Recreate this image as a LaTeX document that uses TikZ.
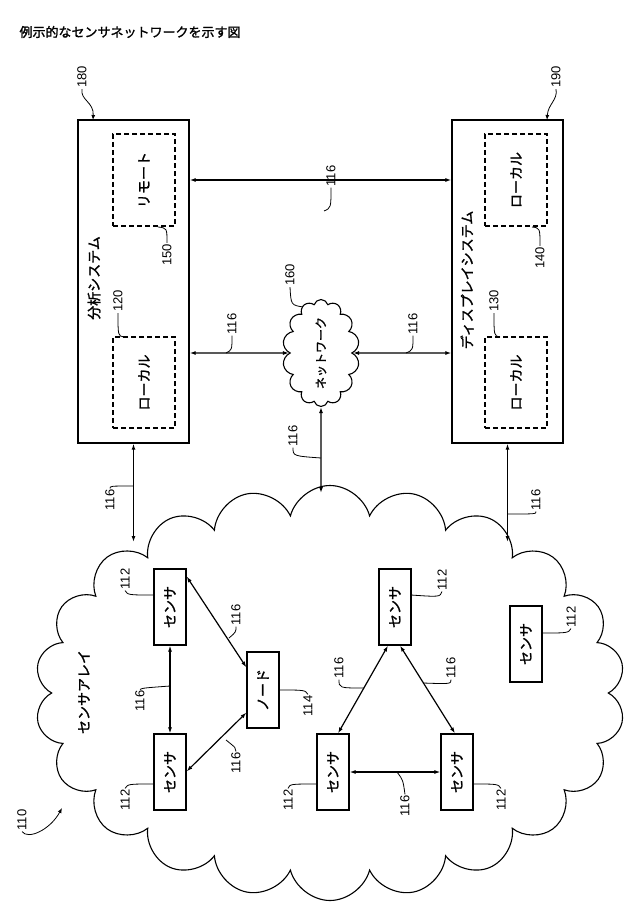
\documentclass[tikz,border=0pt]{standalone}
\usepackage{fontspec}
\setmainfont{Liberation Sans}
\newfontfamily\cjk[AutoFakeBold=1.6]{Noto Sans CJK JP}
\usetikzlibrary{shapes.symbols,arrows.meta,calc}
\begin{document}
\begin{tikzpicture}[x=1pt,y=-1pt,
  box/.style={draw,line width=1.3pt,inner sep=0},
  dbox/.style={draw,line width=1.3pt,dash pattern=on 5pt off 3pt,inner sep=0},
  jt/.style={font=\cjk\bfseries\fontsize{14}{14}\selectfont,rotate=90},
  num/.style={font=\fontsize{13}{13}\selectfont,rotate=90,inner sep=1pt},
  conn/.style={line width=1.2pt,{Latex[length=6pt,width=4pt]}-{Latex[length=6pt,width=4pt]}},
  lead/.style={line width=0.8pt},
  leadarr/.style={line width=0.8pt,-{Latex[length=5pt,width=4pt]}}]
\useasboundingbox (0,0) rectangle (640,920);
\node[anchor=west,font=\cjk\bfseries\fontsize{13}{13}\selectfont] (title) at (16,32) {例示的なセンサネットワークを示す図};
% main boxes
\node[box,minimum width=111,minimum height=323] (ana) at (133.5,281.5) {};
\node[box,minimum width=111,minimum height=323] (disp) at (507.5,281.5) {};
\node[jt] (anat) at (94,278) {分析システム};
\node[jt] (dispt) at (467,280) {ディスプレイシステム};
\node[dbox,minimum width=62,minimum height=92] (rem) at (144,180) {};
\node[jt] at (rem) {リモート};
\node[dbox,minimum width=62,minimum height=91] (loc1) at (144,382.5) {};
\node[jt] at (loc1) {ローカル};
\node[dbox,minimum width=62,minimum height=92] (loc2) at (516,180) {};
\node[jt] at (loc2) {ローカル};
\node[dbox,minimum width=62,minimum height=91] (loc3) at (516,382.5) {};
\node[jt] at (loc3) {ローカル};
% network cloud
\node[cloud,draw,line width=1.1pt,cloud puffs=14,aspect=0.72,minimum width=77,minimum height=107,inner sep=0] (net) at (321,353) {};
\node[jt,font=\cjk\bfseries\fontsize{12}{12}\selectfont] at (net) {ネットワーク};
% sensor cloud
\node[cloud,draw,line width=1.1pt,cloud puffs=22,aspect=1.43,minimum width=590,minimum height=415,inner sep=0] (sc) at (330,693) {};
\node[jt] (sat) at (84,692) {センサアレイ};
% sensors
\tikzset{sens/.style={box,line width=1.2pt,minimum width=32,minimum height=76}}
\node[sens] (sA) at (170,607) {}; \node[jt] at (sA) {センサ};
\node[sens] (sB) at (170,772) {}; \node[jt] at (sB) {センサ};
\node[sens] (nd) at (263,690) {}; \node[jt] at (nd) {ノード};
\node[sens] (sC) at (395,607) {}; \node[jt] at (sC) {センサ};
\node[sens] (sD) at (333,772) {}; \node[jt] at (sD) {センサ};
\node[sens] (sE) at (457,772) {}; \node[jt] at (sE) {センサ};
\node[sens] (sF) at (526,644) {}; \node[jt] at (sF) {センサ};
% connectors
\draw[conn] (ana.east |- rem) -- (disp.west |- rem);
\draw[conn] (ana.east |- net) -- (net.west);
\draw[conn] (net.east) -- (disp.west |- net);
\coordinate (e1) at (133.5,542);
\coordinate (e2) at (321,493);
\coordinate (e3) at (507.5,542);
\draw[conn] (ana.south) -- (e1);
\draw[conn] (net.south) -- (e2);
\draw[conn] (disp.south) -- (e3);
\draw[conn] (sA) -- (sB);
\draw[conn] ($(sA.north east)+(0,8)$) -- ($(nd.north west)+(0,16)$);
\draw[conn] ($(sB.north east)+(0,38)$) -- ($(nd.south west)+(0,-16)$);
\draw[conn] ($(sC.south)+(-7,0)$) -- ($(sD.north)+(5,0)$);
\draw[conn] ($(sC.south)+(5,0)$) -- ($(sE.north)+(-2,0)$);
\draw[conn] (sD) -- (sE);
% number labels
\node[num] (n180) at (82,77) {180};
\node[num] (n190) at (556,77) {190};
\draw[leadarr] (n180.west) .. controls (80,100) and (94,102) .. (93,120);
\draw[leadarr] (n190.west) .. controls (558,100) and (548,104) .. (547,120);
\node[num] (n150) at (167,255) {150};
\node[num] (n120) at (118,301) {120};
\node[num] (n140) at (540,258) {140};
\node[num] (n130) at (494,301) {130};
\node[num] (n160) at (290,275) {160};
\draw[lead] (n150.east) .. controls (167,228) .. (158,227);
\draw[lead] (n120.west) .. controls (118,336) .. (124,337);
\draw[lead] (n140.east) .. controls (540,228) .. (532,227);
\draw[lead] (n130.west) .. controls (494,336) .. (500,337);
\draw[lead] (n160.west) .. controls (291,305) .. (303,307);
\node[num] (t1) at (331,176) {116};
\node[num] (t2) at (232,324) {116};
\node[num] (t3) at (413,324) {116};
\node[num] (t4) at (293,436) {116};
\node[num] (t5) at (110,500) {116};
\node[num] (t6) at (536,500) {116};
\draw[lead] (t1.west) .. controls (331,208) .. (324,211);
\draw[lead] (t2.west) .. controls (232,350) .. (226,353);
\draw[lead] (t3.west) .. controls (413,350) .. (406,353);
\draw[lead] (t4.west) .. controls (293,456) .. (321,458);
\draw[lead] (t5.east) .. controls (110,486) .. (133.5,486);
\draw[lead] (t6.west) .. controls (536,514) .. (507.5,514);
\node[num] (a1) at (125,579) {112};
\node[num] (a2) at (125,800) {112};
\node[num] (a3) at (442,580) {112};
\node[num] (a4) at (288,800) {112};
\node[num] (a5) at (501,800) {112};
\node[num] (a6) at (571,617) {112};
\node[num] (a7) at (308,706) {114};
\draw[lead] (a1.west) .. controls (128,595) .. (154,595);
\draw[lead] (a2.east) .. controls (128,784) .. (154,784);
\draw[lead] (a3.west) .. controls (440,597) .. (411,595);
\draw[lead] (a4.east) .. controls (290,784) .. (317,784);
\draw[lead] (a5.east) .. controls (498,784) .. (473,784);
\draw[lead] (a6.west) .. controls (568,633) .. (542,633);
\draw[lead] (a7.east) .. controls (305,690) .. (279,690);
\node[num] (b1) at (140,701) {116};
\node[num] (b2) at (236,615) {116};
\node[num] (b3) at (236,763) {116};
\node[num] (b4) at (339,668) {116};
\node[num] (b5) at (451,668) {116};
\node[num] (b6) at (405,806) {116};
\draw[lead] (b1.east) .. controls (143,688) .. (170,686);
\draw[lead] (b2.west) .. controls (236,632) .. (229,638);
\draw[lead] (b3.east) .. controls (236,748) .. (226,740);
\draw[lead] (b4.west) .. controls (339,688) .. (364,688);
\draw[lead] (b5.west) .. controls (451,684) .. (423,683);
\draw[lead] (b6.east) .. controls (403,780) .. (397,772);
\node[num] (n110) at (22,820) {110};
\draw[leadarr] (n110.west) .. controls (28,840) and (50,830) .. (62,808);
\end{tikzpicture}
\end{document}
